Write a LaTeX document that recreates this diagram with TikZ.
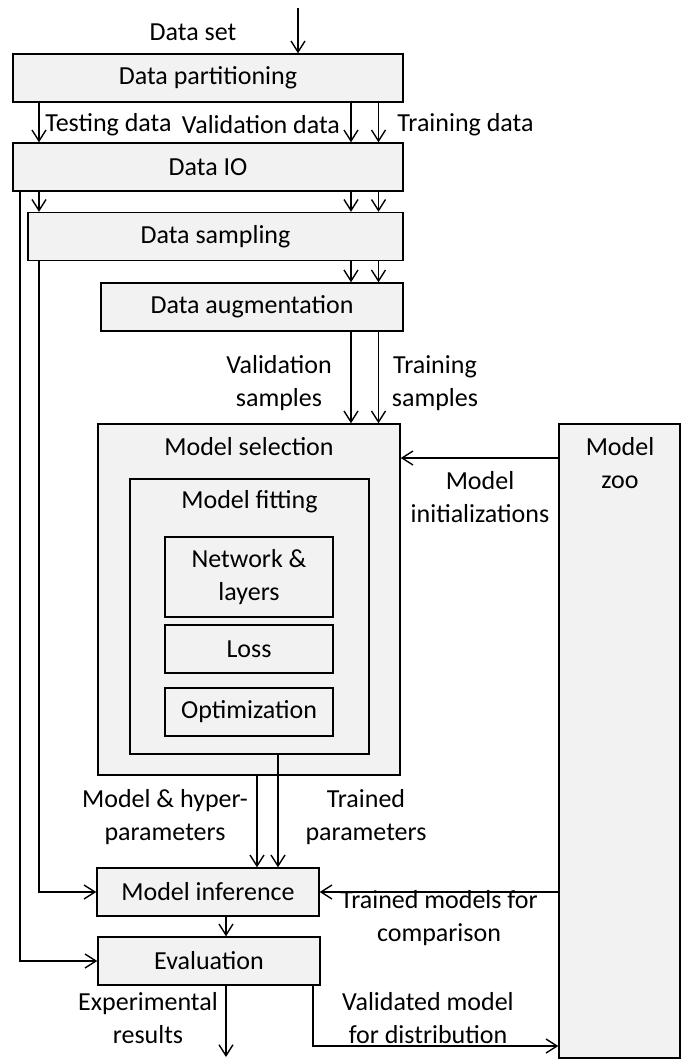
\documentclass[tikz,border=0pt]{standalone}
\usepackage{fontspec}
\setmainfont{Carlito}
\usetikzlibrary{arrows.meta}
\definecolor{boxgray}{HTML}{F2F2F2}
\begin{document}
\begin{tikzpicture}[x=1pt,y=-1pt,
  every node/.style={font=\fontsize{26}{33}\selectfont},
  box/.style={draw, line width=1.4pt, fill=boxgray, inner sep=0pt, minimum height=48pt},
  lbl/.style={align=center, inner sep=0pt},
  arr/.style={line width=1.4pt, -{Straight Barb[length=11pt,width=14pt,line width=1.4pt]}}]
\useasboundingbox (0,0) rectangle (681,1063);
\fill[white] (0,0) rectangle (681,1063);
% boxes
\node[box, minimum width=390pt] (part) at (208,78) {Data partitioning};
\node[box, minimum width=390pt] (io) at (208,167) {Data IO};
\node[box, minimum width=375pt] (samp) at (215.5,236.5) {Data sampling};
\node[box, minimum width=302pt] (aug) at (252,307) {Data augmentation};
\node[box, minimum width=302pt, minimum height=351pt] (msel) at (249,599.5) {};
\node[lbl] (mseltxt) at (249,447) {Model selection};
\node[box, minimum width=239pt, minimum height=275pt] (mfit) at (249.5,616.5) {};
\node[lbl] (mfittxt) at (249.5,502) {Model fitting};
\node[box, minimum width=168pt, minimum height=80pt, align=center] (net) at (249,577) {Network \&\\layers};
\node[box, minimum width=168pt] (loss) at (249,649) {Loss};
\node[box, minimum width=168pt] (opt) at (249,712) {Optimization};
\node[box, minimum width=121pt, minimum height=634pt] (zoo) at (619.5,741) {};
\node[lbl] (zootxt) at (620,463.5) {Model\\zoo};
\node[box, minimum width=222pt] (inf) at (208,892) {Model inference};
\node[box, minimum width=222pt] (eval) at (209,961) {Evaluation};
% coordinates
\coordinate (xa) at (39,0);
\coordinate (xb) at (351,0);
\coordinate (xc) at (378.5,0);
\coordinate (xo) at (20,0);
\coordinate (xd) at (257,0);
\coordinate (xe) at (278,0);
\coordinate (xm) at (226,0);
\coordinate (xv) at (313,0);
\coordinate (dsin) at (298,8);
\coordinate (out) at (226,1057);
\coordinate (yv) at (0,1046);
\coordinate (yi) at (0,458);
% connectors
\draw[arr] (dsin) -- (dsin |- part.north);
\foreach \c in {xa,xb,xc} \draw[arr] (\c |- part.south) -- (\c |- io.north);
\foreach \c in {xa,xb,xc} \draw[arr] (\c |- io.south) -- (\c |- samp.north);
\foreach \c in {xb,xc} \draw[arr] (\c |- samp.south) -- (\c |- aug.north);
\foreach \c in {xb,xc} \draw[arr] (\c |- aug.south) -- (\c |- msel.north);
\draw[arr] (yi -| zoo.west) -- (yi -| msel.east);
\draw[arr] (xo |- io.south) |- (eval.west);
\draw[arr] (xa |- samp.south) |- (inf.west);
\draw[arr] (xd |- msel.south) -- (xd |- inf.north);
\draw[arr] (xe |- mfit.south) -- (xe |- inf.north);
\draw[arr] (inf.east -| zoo.west) -- (inf.east);
\draw[arr] (xm |- inf.south) -- (xm |- eval.north);
\draw[arr] (xm |- eval.south) -- (out);
\draw[arr] (xv |- eval.south) |- (yv -| zoo.west);
% labels
\node[lbl] (lds) at (193,32) {Data set};
\node[lbl] (ltest) at (108.5,125) {Testing data};
\node[lbl] (lval) at (261,125) {Validation data};
\node[lbl] (ltrain) at (465.5,125) {Training data};
\node[lbl] (lvs) at (279,383.5) {Validation\\samples};
\node[lbl] (lts) at (435,383.5) {Training\\samples};
\node[lbl] (linit) at (480,497) {Model\\initializations};
\node[lbl] (lmh) at (165,817) {Model \& hyper-\\parameters};
\node[lbl] (ltp) at (366,817) {Trained\\parameters};
\node[lbl] (ltm) at (439,918) {Trained models for\\comparison};
\node[lbl] (lexp) at (148,1018) {Experimental\\results};
\node[lbl] (lvm) at (428,1018) {Validated model\\for distribution};
\end{tikzpicture}
\end{document}
